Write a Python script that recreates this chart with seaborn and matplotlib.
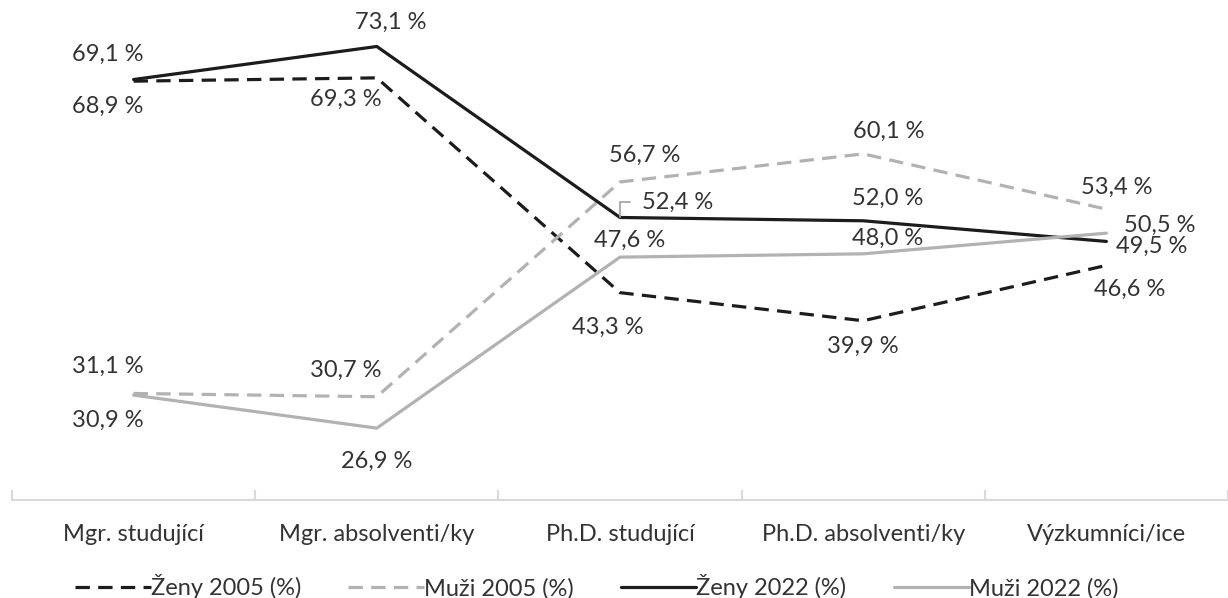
import matplotlib
matplotlib.use("Agg")
import matplotlib.pyplot as plt
import seaborn as sns
import pandas as pd
from matplotlib.ticker import FixedLocator

# ===========================================================================
# DATA
# ===========================================================================
categories = ["Mgr. studující", "Mgr. absolventi/ky", "Ph.D. studující",
              "Ph.D. absolventi/ky", "Výzkumníci/ice"]
series_names = ["Ženy 2005 (%)", "Muži 2005 (%)", "Ženy 2022 (%)", "Muži 2022 (%)"]
zeny_2005 = [68.9, 69.3, 43.3, 39.9, 46.6]
muzi_2005 = [31.1, 30.7, 56.7, 60.1, 53.4]
zeny_2022 = [69.1, 73.1, 52.4, 52.0, 49.5]
muzi_2022 = [30.9, 26.9, 47.6, 48.0, 50.5]

rows = []
for name, vals in zip(series_names, [zeny_2005, muzi_2005, zeny_2022, muzi_2022]):
    for i, v in enumerate(vals):
        rows.append({"pos": i, "value": v, "series": name})
df = pd.DataFrame(rows)

BLACK = "#1c1c1c"
GREY = "#b2b2b2"
TEXT = "#333333"
FS = 17
PALETTE = {
    "Ženy 2005 (%)": BLACK,
    "Muži 2005 (%)": GREY,
    "Ženy 2022 (%)": BLACK,
    "Muži 2022 (%)": GREY,
}
DASHES = {
    "Ženy 2005 (%)": (4.5, 2.6),
    "Muži 2005 (%)": (4.5, 2.6),
    "Ženy 2022 (%)": "",
    "Muži 2022 (%)": "",
}

# label offsets in pixels, per series, per category
OFFSETS = {
    "Ženy 2005 (%)": [(-26, -25), (-31, -21), (-12, -35), (0, -26), (23, -24)],
    "Muži 2005 (%)": [(-26, 27), (-31, 26), (25, 27), (26, 23), (10, 22)],
    "Ženy 2022 (%)": [(-26, 25), (14, 24), (22, 15), (24, 22), (45, -5)],
    "Muži 2022 (%)": [(-26, -25), (0, -33), (10, 17), (24, 15), (53, 8)],
}

sns.set_style("white")
plt.rcParams["font.family"] = ["Lato", "DejaVu Sans"]

fig = plt.figure(figsize=(12.28, 5.98), dpi=100)
ax = fig.add_axes([12 / 1228, 1 - 500 / 598, 1 - 12 / 1228, (500 - 6) / 598])

sns.lineplot(
    data=df, x="pos", y="value", hue="series", style="series",
    palette=PALETTE, dashes=DASHES, hue_order=series_names,
    style_order=series_names, linewidth=2.3, sort=False, ax=ax,
)
for line in ax.lines:
    line.set_dash_capstyle("butt")

ax.set_xlim(-0.5, len(categories) - 0.5)
ax.set_ylim(18.2, 78.0)

for name, vals in zip(series_names, [zeny_2005, muzi_2005, zeny_2022, muzi_2022]):
    for i, v in enumerate(vals):
        dx, dy = OFFSETS[name][i]
        label = f"{v:.1f}".replace(".", ",") + " %"
        if name == "Ženy 2022 (%)" and i == 2:
            # label pulled away from its point, with a leader line
            ax.annotate(label, xy=(i, v), xytext=(dx, dy),
                        textcoords="offset pixels", ha="left", va="center",
                        fontsize=FS, color=TEXT,
                        arrowprops=dict(arrowstyle="-", color="#a6a6a6", lw=1.3,
                                        shrinkA=6.5, shrinkB=0, relpos=(0, 0.5),
                                        connectionstyle="angle,angleA=0,angleB=90,rad=0"))
        else:
            ax.annotate(label, xy=(i, v), xytext=(dx, dy),
                        textcoords="offset pixels", ha="center", va="center",
                        fontsize=FS, color=TEXT)

# axes styling
for side in ["left", "top", "right"]:
    ax.spines[side].set_visible(False)
ax.spines["bottom"].set_color("#d9d9d9")
ax.spines["bottom"].set_linewidth(1.5)
ax.set_yticks([])
ax.set_xticks(range(len(categories)))
ax.set_xticklabels(categories, fontsize=FS, color=TEXT)
ax.tick_params(axis="x", which="major", length=0, pad=17)
ax.xaxis.set_minor_locator(FixedLocator([i - 0.5 for i in range(len(categories) + 1)]))
ax.tick_params(axis="x", which="minor", bottom=True, length=7, width=1.5,
               color="#d9d9d9", direction="in")
ax.set_xlabel("")
ax.set_ylabel("")

handles, labels = ax.get_legend_handles_labels()
ax.legend(handles, labels, loc="center", bbox_to_anchor=(0.481, -0.176),
          ncol=4, frameon=False, fontsize=FS, handlelength=3.2,
          handletextpad=0.0, columnspacing=2.0, labelcolor=TEXT)

fig.savefig("out.png", dpi=100)
